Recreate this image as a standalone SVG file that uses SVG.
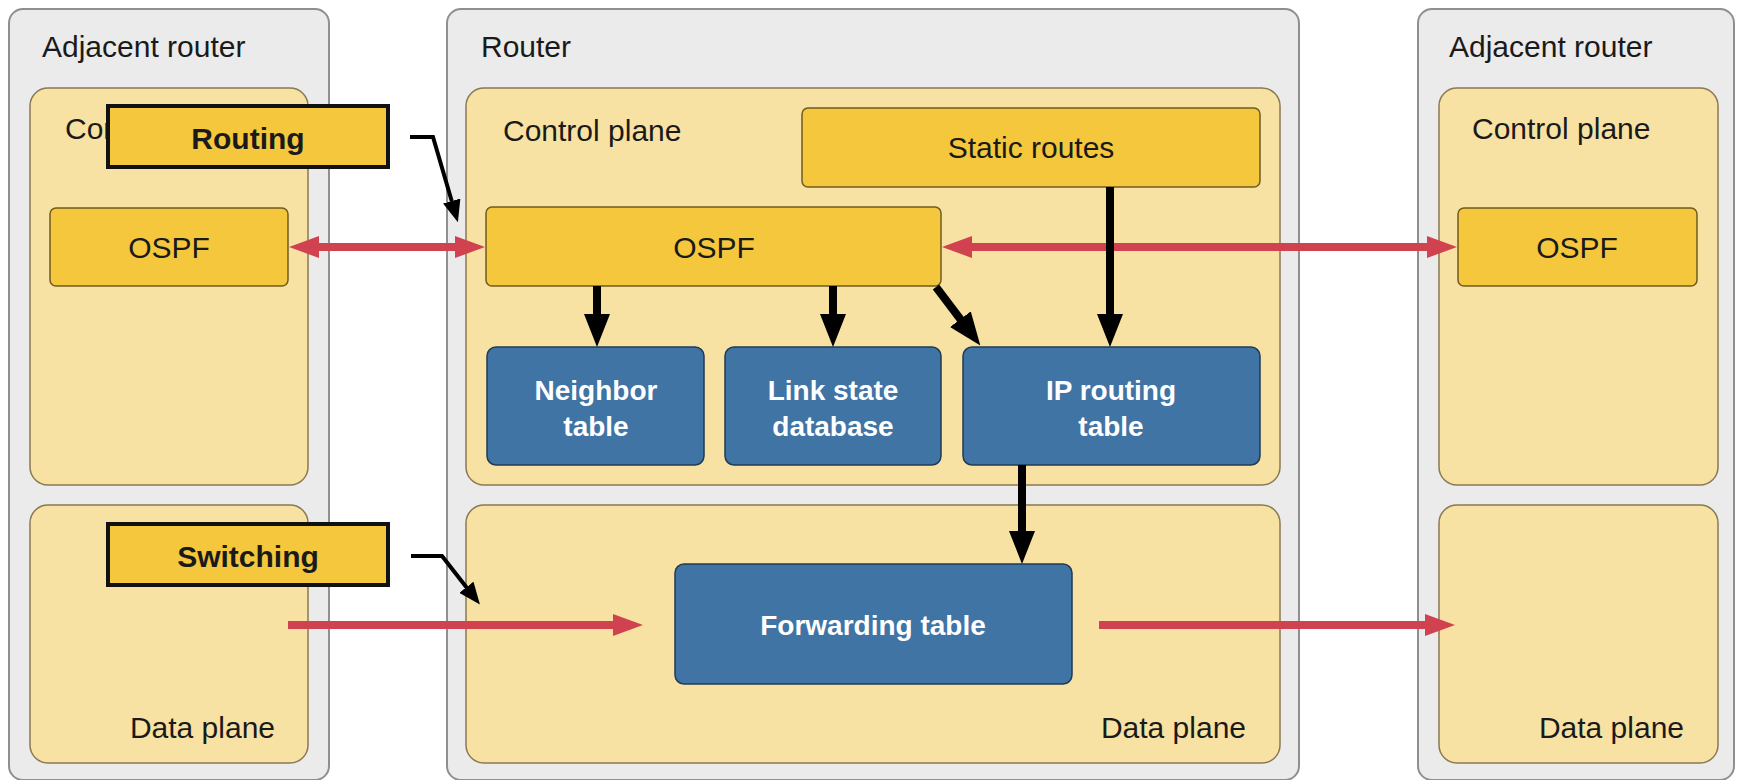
<svg xmlns="http://www.w3.org/2000/svg" width="1741" height="780" viewBox="0 0 1741 780">
<style>
.outer{fill:#ebebeb;stroke:#8f8f8f;stroke-width:2}
.plane{fill:#f8e2a3;stroke:#8a7a52;stroke-width:1.5}
.yel{fill:#f4c73c;stroke:#6e5c20;stroke-width:1.5}
.blue{fill:#3f74a5;stroke:#203b56;stroke-width:1.5}
.lab{fill:#f4c73c;stroke:#111;stroke-width:4}
text{font-family:"Liberation Sans",Arial,sans-serif;font-size:30px;fill:#1a1a1a}
.c{text-anchor:middle}
.e{text-anchor:end}
.w{fill:#ffffff;font-weight:bold;font-size:28px}
.b{font-weight:bold}
.red{stroke:#d0424f;stroke-width:8;fill:none}
.blk{stroke:#000;stroke-width:8;fill:none}
.thin{stroke:#000;stroke-width:4;fill:none;stroke-linejoin:miter}
</style>
<defs>
<marker id="bh" markerUnits="userSpaceOnUse" viewBox="0 0 33 26" markerWidth="33" markerHeight="26" refX="1" refY="13" orient="auto"><path d="M0,0 L33,13 L0,26 z" fill="#000"/></marker>
<marker id="sh" markerUnits="userSpaceOnUse" viewBox="0 0 22 18" markerWidth="22" markerHeight="18" refX="1" refY="9" orient="auto"><path d="M0,0 L22,9 L0,18 z" fill="#000"/></marker>
<marker id="rh" markerUnits="userSpaceOnUse" viewBox="0 0 30 22" markerWidth="30" markerHeight="22" refX="1" refY="11" orient="auto-start-reverse"><path d="M0,0 L30,11 L0,22 z" fill="#d0424f"/></marker>
</defs>

<g id="adj-left">
<rect class="outer" x="9" y="9" width="320" height="771" rx="14"/>
<text x="42" y="57">Adjacent router</text>
<rect class="plane" x="30" y="88" width="278" height="397" rx="18"/>
<text x="65" y="139">Control plane</text>
<rect class="plane" x="30" y="505" width="278" height="258" rx="18"/>
<text class="e" x="275" y="738">Data plane</text>
</g>
<g id="adj-left-ospf">
<rect class="yel" x="50" y="208" width="238" height="78" rx="6"/>
<text class="c" x="169" y="258">OSPF</text>
</g>

<g id="router">
<rect class="outer" x="447" y="9" width="852" height="771" rx="14"/>
<text x="481" y="57">Router</text>
</g>
<g id="control-plane">
<rect class="plane" x="466" y="88" width="814" height="397" rx="18"/>
<text x="503" y="141">Control plane</text>
</g>
<g id="data-plane">
<rect class="plane" x="466" y="505" width="814" height="258" rx="18"/>
<text class="e" x="1246" y="738">Data plane</text>
</g>
<g id="static-routes">
<rect class="yel" x="802" y="108" width="458" height="79" rx="6"/>
<text class="c" x="1031" y="158">Static routes</text>
</g>
<g id="ospf">
<rect class="yel" x="486" y="207" width="455" height="79" rx="6"/>
<text class="c" x="714" y="258">OSPF</text>
</g>
<g id="neighbor-table">
<rect class="blue" x="487" y="347" width="217" height="118" rx="9"/>
<text class="c w" x="596" y="400">Neighbor</text>
<text class="c w" x="596" y="436">table</text>
</g>
<g id="lsdb">
<rect class="blue" x="725" y="347" width="216" height="118" rx="9"/>
<text class="c w" x="833" y="400">Link state</text>
<text class="c w" x="833" y="436">database</text>
</g>
<g id="ip-routing-table">
<rect class="blue" x="963" y="347" width="297" height="118" rx="9"/>
<text class="c w" x="1111" y="400">IP routing</text>
<text class="c w" x="1111" y="436">table</text>
</g>
<g id="forwarding-table">
<rect class="blue" x="675" y="564" width="397" height="120" rx="9"/>
<text class="c w" x="873" y="635">Forwarding table</text>
</g>

<g id="adj-right">
<rect class="outer" x="1418" y="9" width="316" height="771" rx="14"/>
<text x="1449" y="57">Adjacent router</text>
<rect class="plane" x="1439" y="88" width="279" height="397" rx="18"/>
<text x="1472" y="139">Control plane</text>
<rect class="plane" x="1439" y="505" width="279" height="258" rx="18"/>
<text class="e" x="1684" y="738">Data plane</text>
</g>
<g id="adj-right-ospf">
<rect class="yel" x="1458" y="208" width="239" height="78" rx="6"/>
<text class="c" x="1577" y="258">OSPF</text>
</g>

<g id="connectors">
<line class="red" x1="318" y1="247" x2="456" y2="247" stroke-width="7" marker-start="url(#rh)" marker-end="url(#rh)"/>
<line class="red" x1="971" y1="247" x2="1428" y2="247" stroke-width="7" marker-start="url(#rh)" marker-end="url(#rh)"/>
<line class="red" x1="288" y1="625" x2="614" y2="625" marker-end="url(#rh)"/>
<line class="red" x1="1099" y1="625" x2="1426" y2="625" marker-end="url(#rh)"/>
<line class="blk" x1="597" y1="286" x2="597" y2="315" marker-end="url(#bh)"/>
<line class="blk" x1="833" y1="286" x2="833" y2="315" marker-end="url(#bh)"/>
<line class="blk" x1="936" y1="287" x2="961" y2="320" marker-end="url(#bh)"/>
<line class="blk" x1="1110" y1="187" x2="1110" y2="315" stroke-width="6" marker-end="url(#bh)"/>
<line class="blk" x1="1022" y1="465" x2="1022" y2="532" marker-end="url(#bh)"/>
<path class="thin" d="M410,137 L433,137 L452,202" marker-end="url(#sh)"/>
<path class="thin" d="M411,556 L442,556 L467,588" marker-end="url(#sh)"/>
</g>

<g id="routing-label">
<rect class="lab" x="108" y="106" width="280" height="61"/>
<text class="c b" x="248" y="149">Routing</text>
</g>
<g id="switching-label">
<rect class="lab" x="108" y="524" width="280" height="61"/>
<text class="c b" x="248" y="567">Switching</text>
</g>
</svg>
